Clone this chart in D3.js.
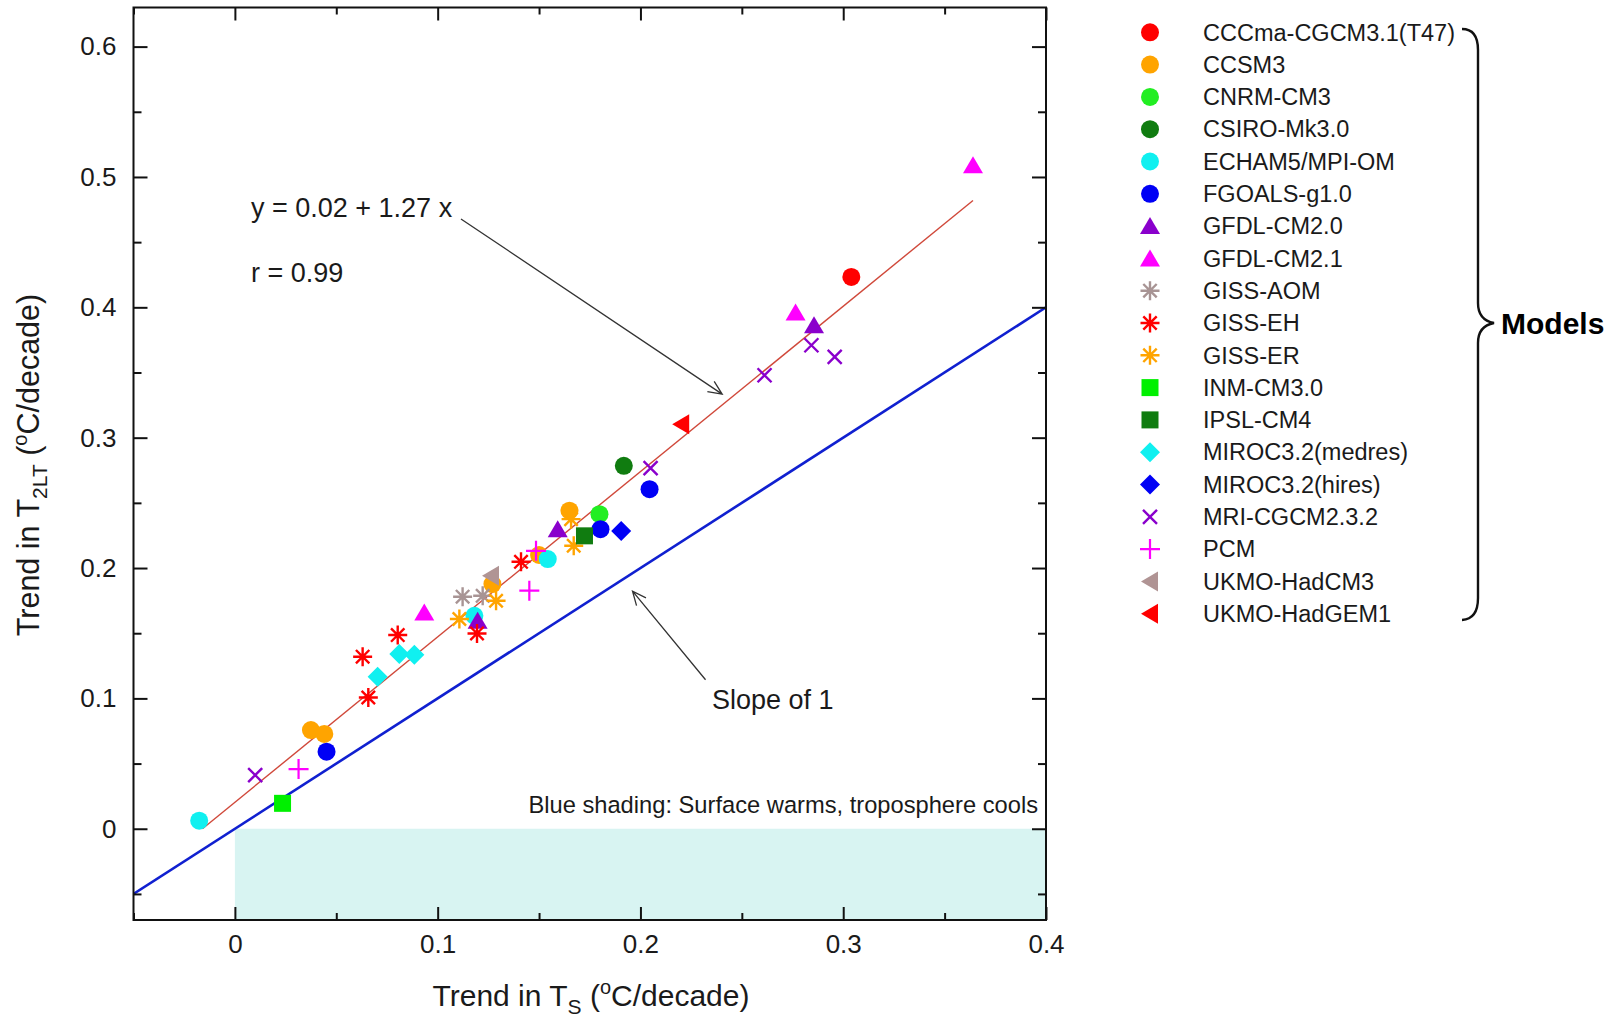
<!DOCTYPE html>
<html>
<head>
<meta charset="utf-8">
<script src="https://cdn.jsdelivr.net/npm/d3@7"></script>
<style>
  html, body { margin: 0; padding: 0; background: #fff; }
  svg { display: block; font-family: "Liberation Sans", Arial, Helvetica, sans-serif; }
</style>
</head>
<body>
<svg id="chart" width="1621" height="1018"></svg>
<script>
// ---------------- data ----------------
const models = ["CCCma-CGCM3.1(T47)", "CCSM3", "CNRM-CM3", "CSIRO-Mk3.0", "ECHAM5/MPI-OM",
  "FGOALS-g1.0", "GFDL-CM2.0", "GFDL-CM2.1", "GISS-AOM", "GISS-EH", "GISS-ER", "INM-CM3.0",
  "IPSL-CM4", "MIROC3.2(medres)", "MIROC3.2(hires)", "MRI-CGCM2.3.2", "PCM", "UKMO-HadCM3", "UKMO-HadGEM1"];
const colors = ["#ff0000", "#ffa400", "#22ee22", "#107c10", "#10f0f0",
  "#0000f5", "#8a00cc", "#ff00ff", "#a89494", "#ff0000", "#ffa400", "#00f000",
  "#107c10", "#10f0f0", "#0000f5", "#8a00cc", "#ff00ff", "#b09494", "#ff0000"];
const shapes = ["circle", "circle", "circle", "circle", "circle",
  "circle", "triUp", "triUp", "star", "star", "star", "square",
  "square", "diamond", "diamond", "cross", "plus", "triLeft", "triLeft"];
// Surface trend (x) per model realization
const tsTrend = [
  [0.304],
  [0.0375, 0.0441, 0.165, 0.150, 0.127],
  [0.1798],
  [0.1918],
  [-0.0176, 0.1543, 0.1181],
  [0.0452, 0.1803, 0.2045],
  [0.1592, 0.2856, 0.1197],
  [0.364, 0.2765, 0.0934],
  [0.1123, 0.1222],
  [0.063, 0.0803, 0.0658, 0.1194, 0.1411],
  [0.1107, 0.1288, 0.1671, 0.1658],
  [0.0235],
  [0.1724],
  [0.0704, 0.0811, 0.0885],
  [0.1905],
  [0.010, 0.2612, 0.2843, 0.2958, 0.205],
  [0.0314, 0.1452, 0.1485],
  [0.1263],
  [0.2201]
];
// Lower-troposphere trend (y) per model realization
const t2ltTrend = [
  [0.4233],
  [0.0757, 0.0727, 0.244, 0.210, 0.1877],
  [0.2413],
  [0.2784],
  [0.0062, 0.2069, 0.1634],
  [0.0591, 0.2298, 0.2605],
  [0.2298, 0.3862, 0.1596],
  [0.509, 0.396, 0.1659],
  [0.178, 0.1787],
  [0.132, 0.1486, 0.1007, 0.1498, 0.2048],
  [0.1609, 0.1749, 0.2171, 0.2375],
  [0.0195],
  [0.2247],
  [0.1166, 0.134, 0.1335],
  [0.2285],
  [0.0412, 0.3479, 0.3709, 0.362, 0.2766],
  [0.0458, 0.1826, 0.2132],
  [0.194],
  [0.3103]
];
const xMajorTicks = [0, 0.1, 0.2, 0.3, 0.4];
const xMinorTicks = [-0.05, 0.05, 0.15, 0.25, 0.35];
const yMajorTicks = [0, 0.1, 0.2, 0.3, 0.4, 0.5, 0.6];
const yMinorTicks = [-0.05, 0.05, 0.15, 0.25, 0.35, 0.45, 0.55];
const fitLine = [[-0.016, 0.0], [0.364, 0.482]];        // regression y = 0.02 + 1.27 x
const slopeOneLine = [[-0.05, -0.05], [0.4, 0.4]];
const shadeBox = [[0, -0.07], [0.4, 0]];
const fitArrow = [[0.1115, 0.4678], [0.2403, 0.3334]];
const slopeArrow = [[0.2321, 0.1143], [0.1961, 0.1823]];

// ---------------- layout ----------------
const svg = d3.select("#chart");
const L = 133.5, R = 1046, T = 7.5, B = 920;
const x = d3.scaleLinear().domain([-0.05, 0.4]).range([L, R]);
const y = d3.scaleLinear().domain([-0.07, 0.63]).range([B, T]);

// shading
svg.append("rect")
  .attr("x", x(shadeBox[0][0])).attr("y", y(shadeBox[1][1]))
  .attr("width", x(shadeBox[1][0]) - x(shadeBox[0][0]))
  .attr("height", y(shadeBox[0][1]) - y(shadeBox[1][1]))
  .attr("fill", "#d8f4f2");

svg.append("text").attr("x", 1038).attr("y", 813).attr("text-anchor", "end")
  .attr("font-size", 23.7).attr("fill", "#1a1a1a")
  .text("Blue shading: Surface warms, troposphere cools");

// clip for lines
svg.append("clipPath").attr("id", "clip").append("rect")
  .attr("x", L).attr("y", T).attr("width", R - L).attr("height", B - T);

const line = d3.line().x(d => x(d[0])).y(d => y(d[1]));
svg.append("path").datum(slopeOneLine).attr("d", line).attr("clip-path", "url(#clip)")
  .attr("stroke", "#1020d0").attr("stroke-width", 2.6).attr("fill", "none");
svg.append("path").datum(fitLine).attr("d", line)
  .attr("stroke", "#d0483a").attr("stroke-width", 1.4).attr("fill", "none");

// axes (ticks inside)
function styleAxis(g) {
  g.select(".domain").remove();
  g.selectAll(".tick line").attr("stroke", "#111").attr("stroke-width", 2);
  g.selectAll("text").attr("font-size", 26).attr("fill", "#1a1a1a")
    .attr("font-family", "Liberation Sans, Arial, sans-serif");
}
const fmt = d => d === 0 ? "0" : d3.format(".1f")(d);
svg.append("g").attr("transform", `translate(0,${B})`)
  .call(d3.axisBottom(x).tickValues(xMajorTicks).tickSize(-13).tickPadding(15).tickFormat(fmt)).call(styleAxis);
svg.append("g").attr("transform", `translate(0,${B})`)
  .call(d3.axisBottom(x).tickValues(xMinorTicks).tickSize(-7).tickFormat("")).call(styleAxis);
svg.append("g").attr("transform", `translate(0,${T})`)
  .call(d3.axisTop(x).tickValues(xMajorTicks).tickSize(-13).tickFormat("")).call(styleAxis);
svg.append("g").attr("transform", `translate(0,${T})`)
  .call(d3.axisTop(x).tickValues(xMinorTicks).tickSize(-7).tickFormat("")).call(styleAxis);
svg.append("g").attr("transform", `translate(${L},0)`)
  .call(d3.axisLeft(y).tickValues(yMajorTicks).tickSize(-14).tickPadding(17).tickFormat(fmt)).call(styleAxis);
svg.append("g").attr("transform", `translate(${L},0)`)
  .call(d3.axisLeft(y).tickValues(yMinorTicks).tickSize(-8).tickFormat("")).call(styleAxis);
svg.append("g").attr("transform", `translate(${R},0)`)
  .call(d3.axisRight(y).tickValues(yMajorTicks).tickSize(-14).tickFormat("")).call(styleAxis);
svg.append("g").attr("transform", `translate(${R},0)`)
  .call(d3.axisRight(y).tickValues(yMinorTicks).tickSize(-8).tickFormat("")).call(styleAxis);

svg.append("rect").attr("x", L).attr("y", T).attr("width", R - L).attr("height", B - T)
  .attr("fill", "none").attr("stroke", "#111").attr("stroke-width", 2);

// markers
function drawShape(g, shape, color) {
  switch (shape) {
    case "circle":
      g.append("circle").attr("r", 9).attr("fill", color); break;
    case "triUp":
      g.append("path").attr("d", "M-10,8L10,8L0,-9Z").attr("fill", color); break;
    case "triLeft":
      g.append("path").attr("d", "M-9,0L8,-10L8,10Z").attr("fill", color); break;
    case "square":
      g.append("rect").attr("x", -8.5).attr("y", -8.5).attr("width", 17).attr("height", 17).attr("fill", color); break;
    case "diamond":
      g.append("path").attr("d", "M0,-10L10,0L0,10L-10,0Z").attr("fill", color); break;
    case "cross":
      g.append("path").attr("d", "M-7,-7L7,7M-7,7L7,-7").attr("stroke", color).attr("stroke-width", 2.4).attr("fill", "none"); break;
    case "plus":
      g.append("path").attr("d", "M-10,0L10,0M0,-10L0,10").attr("stroke", color).attr("stroke-width", 2.2).attr("fill", "none"); break;
    case "star":
      g.append("path").attr("d", "M-9.5,0L9.5,0M0,-9.5L0,9.5M-6.7,-6.7L6.7,6.7M-6.7,6.7L6.7,-6.7")
        .attr("stroke", color).attr("stroke-width", 2.4).attr("fill", "none"); break;
  }
}

models.forEach((m, i) => {
  tsTrend[i].forEach((xv, j) => {
    const g = svg.append("g").attr("transform", `translate(${x(xv)},${y(t2ltTrend[i][j])})`);
    drawShape(g, shapes[i], colors[i]);
  });
});

// annotations
function arrow(pts) {
  const x1 = x(pts[0][0]), y1 = y(pts[0][1]), x2 = x(pts[1][0]), y2 = y(pts[1][1]);
  const a = Math.atan2(y2 - y1, x2 - x1), h = 15, s = 0.42;
  svg.append("path")
    .attr("d", `M${x1},${y1}L${x2},${y2}M${x2 - h * Math.cos(a - s)},${y2 - h * Math.sin(a - s)}L${x2},${y2}L${x2 - h * Math.cos(a + s)},${y2 - h * Math.sin(a + s)}`)
    .attr("stroke", "#333").attr("stroke-width", 1.3).attr("fill", "none");
}
arrow(fitArrow);
arrow(slopeArrow);

svg.append("text").attr("x", 251).attr("y", 217).attr("font-size", 27).attr("fill", "#1a1a1a").text("y = 0.02 + 1.27 x");
svg.append("text").attr("x", 251).attr("y", 282).attr("font-size", 27).attr("fill", "#1a1a1a").text("r = 0.99");
svg.append("text").attr("x", 712).attr("y", 709).attr("font-size", 27).attr("fill", "#1a1a1a").text("Slope of 1");

// axis titles
const xt = svg.append("text").attr("x", 591).attr("y", 1006).attr("text-anchor", "middle")
  .attr("font-size", 30).attr("fill", "#1a1a1a");
xt.append("tspan").text("Trend in T");
xt.append("tspan").attr("font-size", 21).attr("dy", 8).text("S");
xt.append("tspan").attr("dy", -8).text(" (");
xt.append("tspan").attr("font-size", 20).attr("dy", -12).text("o");
xt.append("tspan").attr("dy", 12).text("C/decade)");

const yt = svg.append("text").attr("transform", "translate(39,465) rotate(-90)").attr("text-anchor", "middle")
  .attr("font-size", 30.5).attr("fill", "#1a1a1a");
yt.append("tspan").text("Trend in T");
yt.append("tspan").attr("font-size", 21).attr("dy", 8).text("2LT");
yt.append("tspan").attr("dy", -8).text(" (");
yt.append("tspan").attr("font-size", 20).attr("dy", -12).text("o");
yt.append("tspan").attr("dy", 12).text("C/decade)");

// legend
const leg = svg.append("g");
models.forEach((m, i) => {
  const cy = 32.3 + i * 32.3;
  const g = leg.append("g").attr("transform", `translate(1150,${cy})`);
  drawShape(g, shapes[i], colors[i]);
  leg.append("text").attr("x", 1203).attr("y", cy).attr("dy", "0.35em")
    .attr("font-size", 23.5).attr("fill", "#1a1a1a").text(m);
});

// brace
svg.append("path")
  .attr("d", "M1462,29 Q1478,29 1478,50 L1478,303 Q1478,320 1494,323 Q1478,326 1478,343 L1478,598 Q1478,619 1462,620")
  .attr("stroke", "#111").attr("stroke-width", 2.4).attr("fill", "none");
svg.append("text").attr("x", 1501).attr("y", 334).attr("font-size", 30).attr("font-weight", "bold")
  .attr("fill", "#000").text("Models");
</script>
</body>
</html>
